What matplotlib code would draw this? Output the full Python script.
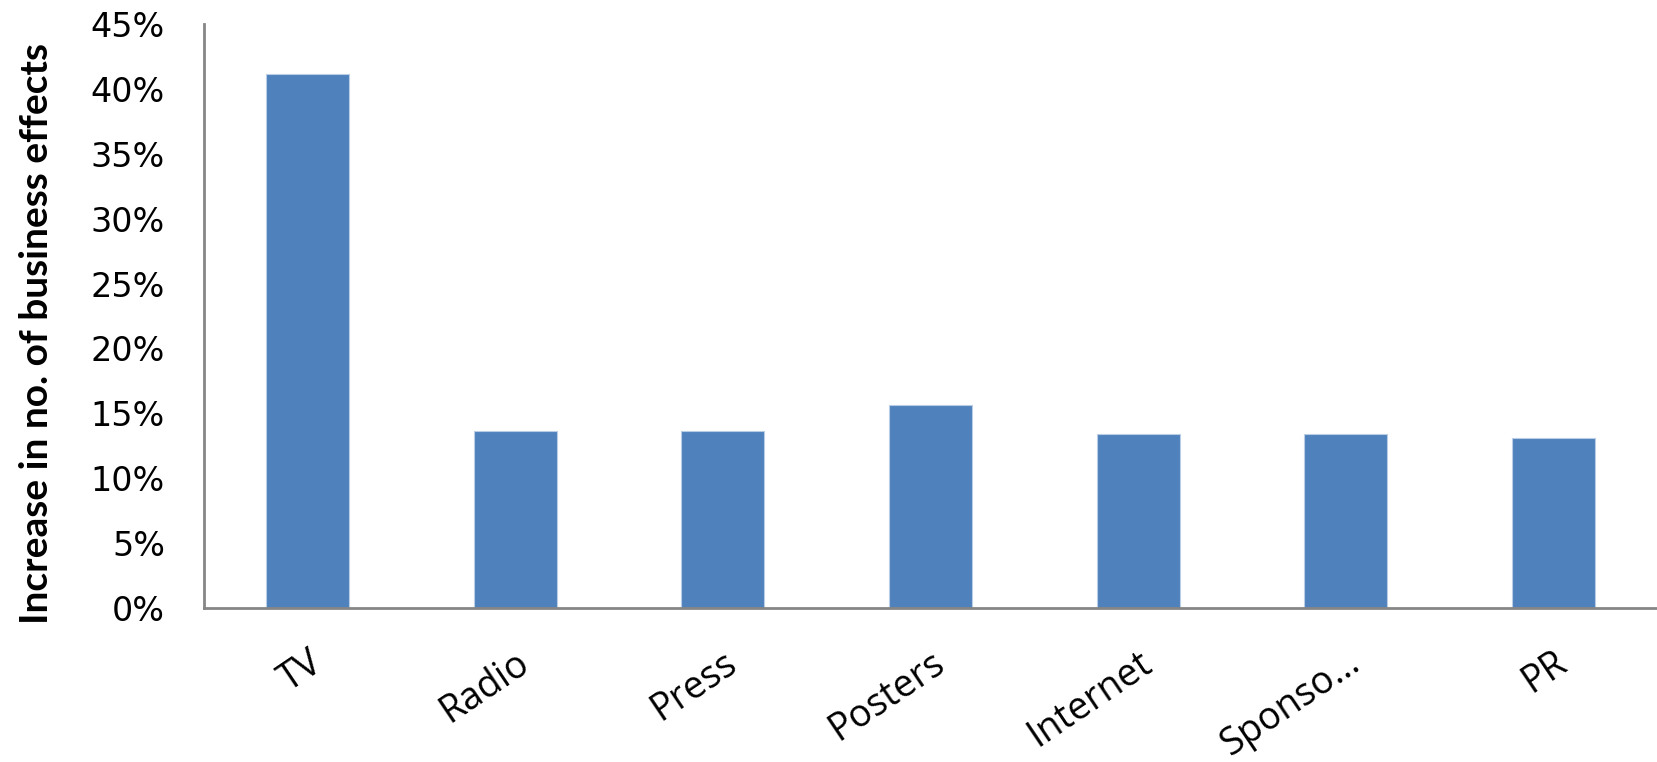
import matplotlib.pyplot as plt
from matplotlib.ticker import PercentFormatter

# data
media = ["TV", "Radio", "Press", "Posters", "Internet", "Sponso\u2026", "PR"]
increase = [0.412, 0.136, 0.136, 0.156, 0.134, 0.134, 0.131]
yticks = [0, 0.05, 0.10, 0.15, 0.20, 0.25, 0.30, 0.35, 0.40, 0.45]

fig = plt.figure(figsize=(16.57, 7.62), dpi=100)
ax = fig.add_axes([0.1231, 0.2025, 0.8769, 0.7655])

ax.bar(range(len(media)), increase, width=0.4, color="#4F81BD",
       edgecolor="#B9CDE5", linewidth=0.8)

ax.set_xlim(-0.5, len(media) - 0.5)
ax.set_ylim(0, 0.45)
ax.set_yticks(yticks)
ax.yaxis.set_major_formatter(PercentFormatter(1.0, decimals=0))

ax.set_xticks(range(len(media)))
ax.set_xticklabels(media, rotation=34, ha="right", va="top",
                   rotation_mode="anchor", fontsize=27, family="Open Sans")
ax.tick_params(axis="x", length=0, pad=26)
ax.tick_params(axis="y", length=0, pad=28, labelsize=24)

for s in ["top", "right"]:
    ax.spines[s].set_visible(False)
for s in ["left", "bottom"]:
    ax.spines[s].set_color("#868686")
    ax.spines[s].set_linewidth(2)

fig.text(37 / 1657, 1 - 334 / 762, "Increase in no. of business effects",
         rotation=90, ha="center", va="center", fontsize=28,
         fontweight="bold", family="Lato")

fig.savefig("out.png", dpi=100)
